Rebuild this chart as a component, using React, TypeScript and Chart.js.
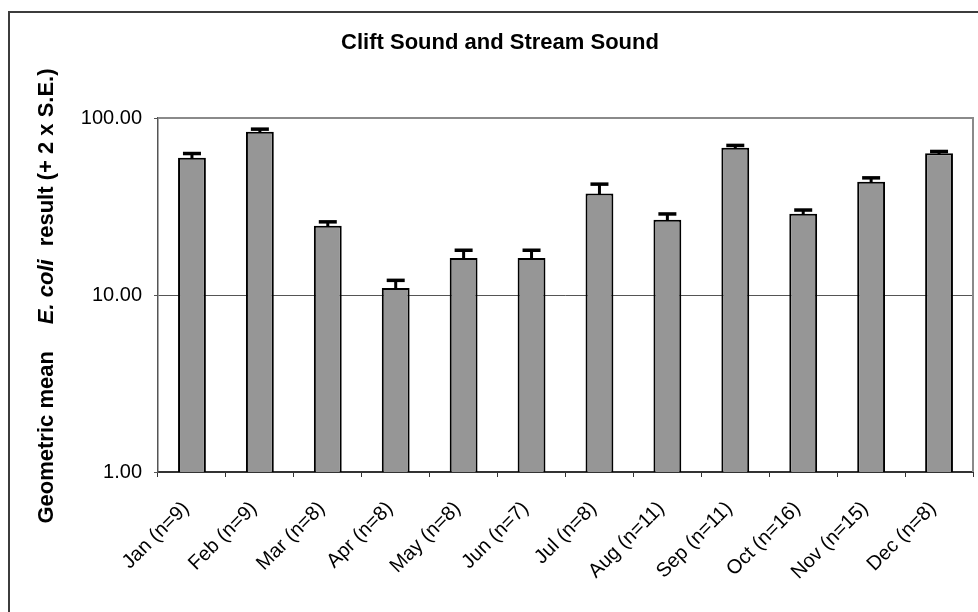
import React, { useEffect, useRef } from 'react';
import { Chart, registerables } from 'chart.js';

Chart.register(...registerables);

const categories = [
  'Jan (n=9)', 'Feb (n=9)', 'Mar (n=8)', 'Apr (n=8)', 'May (n=8)', 'Jun (n=7)',
  'Jul (n=8)', 'Aug (n=11)', 'Sep (n=11)', 'Oct (n=16)', 'Nov (n=15)', 'Dec (n=8)',
];
const geoMeans = [59.7, 83.7, 24.6, 10.95, 16.2, 16.2, 37.4, 26.6, 68.0, 28.8, 43.7, 63.2];
const upperBounds = [63.0, 86.5, 25.9, 12.1, 17.9, 17.9, 42.3, 28.7, 70.0, 30.2, 45.9, 64.7];
const yTickValues = [1, 10, 100];
const chartTitle = 'Clift Sound and Stream Sound';
const yTitleParts = ['Geometric mean', 'E. coli', 'result (+ 2 x S.E.)'];

const FONT = '"Liberation Sans", Arial, sans-serif';

const decorPlugin = {
  id: 'decor',
  beforeDraw(chart: any) {
    const ctx = chart.ctx;
    ctx.save();
    ctx.fillStyle = '#ffffff';
    ctx.fillRect(0, 0, chart.width, chart.height);
    ctx.strokeStyle = '#3c3c3c';
    ctx.lineWidth = 2;
    ctx.beginPath();
    ctx.moveTo(9, chart.height + 5);
    ctx.lineTo(9, 12);
    ctx.lineTo(chart.width + 5, 12);
    ctx.stroke();
    ctx.restore();
  },
  beforeDatasetsDraw(chart: any) {
    const { ctx, chartArea } = chart;
    ctx.save();
    ctx.strokeStyle = '#8a8a8a';
    ctx.lineWidth = 2;
    ctx.beginPath();
    ctx.moveTo(chartArea.left, chartArea.top);
    ctx.lineTo(chartArea.right, chartArea.top);
    ctx.lineTo(chartArea.right, chartArea.bottom);
    ctx.stroke();
    ctx.restore();
  },
  afterDatasetsDraw(chart: any) {
    const { ctx } = chart;
    const meta = chart.getDatasetMeta(0);
    const yScale = chart.scales.y;
    ctx.save();
    ctx.strokeStyle = '#000000';
    meta.data.forEach((bar: any, i: number) => {
      const yTop = yScale.getPixelForValue(upperBounds[i]);
      ctx.lineWidth = 3;
      ctx.beginPath();
      ctx.moveTo(bar.x, bar.y + 1);
      ctx.lineTo(bar.x, yTop);
      ctx.stroke();
      ctx.lineWidth = 3.5;
      ctx.beginPath();
      ctx.moveTo(bar.x - 9, yTop);
      ctx.lineTo(bar.x + 9, yTop);
      ctx.stroke();
    });
    ctx.restore();
  },
  afterDraw(chart: any) {
    const { ctx } = chart;
    ctx.save();
    ctx.fillStyle = '#000000';
    ctx.font = `bold 22px ${FONT}`;
    ctx.textAlign = 'center';
    ctx.textBaseline = 'middle';
    ctx.fillText(chartTitle, 500, 43);

    // rotated y-axis title with mixed styles
    const fonts = [`bold 22px ${FONT}`, `italic bold 22px ${FONT}`, `bold 22px ${FONT}`];
    const gaps = [27, 13];
    const widths = yTitleParts.map((t, i) => {
      ctx.font = fonts[i];
      return ctx.measureText(t).width;
    });
    const total = widths[0] + gaps[0] + widths[1] + gaps[1] + widths[2];
    const cy = 296;
    ctx.translate(47, cy + total / 2);
    ctx.rotate(-Math.PI / 2);
    ctx.textAlign = 'left';
    let x = 0;
    yTitleParts.forEach((t, i) => {
      ctx.font = fonts[i];
      ctx.fillText(t, x, 0);
      x += widths[i] + (gaps[i] || 0);
    });
    ctx.restore();
  },
};

export default function App() {
  const canvasRef = useRef<HTMLCanvasElement | null>(null);

  useEffect(() => {
    if (!canvasRef.current) return;
    const chart = new Chart(canvasRef.current, {
      type: 'bar',
      data: {
        labels: categories,
        datasets: [
          {
            data: geoMeans,
            backgroundColor: '#969696',
            borderColor: '#000000',
            borderWidth: 2,
            borderSkipped: 'start',
            barPercentage: 0.41,
            categoryPercentage: 1,
          },
        ],
      },
      options: {
        animation: false,
        responsive: false,
        devicePixelRatio: 1,
        layout: { padding: { top: 118, right: 5, bottom: 0, left: 0 } },
        plugins: {
          legend: { display: false },
          tooltip: { enabled: false },
          title: { display: false },
        },
        scales: {
          x: {
            grid: {
              display: true,
              drawOnChartArea: false,
              drawTicks: true,
              tickLength: 5,
              tickColor: '#333333',
              offset: true,
            },
            border: { display: true, color: '#333333', width: 2 },
            ticks: {
              autoSkip: false,
              minRotation: 45,
              maxRotation: 45,
              labelOffset: -6,
              padding: 20,
              color: '#000000',
              font: { family: FONT, size: 20 },
            },
            afterFit: (scale: any) => {
              scale.height = 140;
            },
          },
          y: {
            type: 'logarithmic',
            min: 1,
            max: 100,
            afterBuildTicks: (scale: any) => {
              scale.ticks = yTickValues.map((v) => ({ value: v }));
            },
            grid: {
              drawOnChartArea: true,
              drawTicks: true,
              tickLength: 4,
              tickColor: '#555555',
              color: (c: any) => (c.tick && c.tick.value === 10 ? '#555555' : 'rgba(0,0,0,0)'),
              lineWidth: 1,
            },
            border: { display: true, color: '#555555', width: 1.5 },
            ticks: {
              padding: 12,
              color: '#000000',
              font: { family: FONT, size: 20 },
              callback: (v: any) => Number(v).toFixed(2),
            },
            afterFit: (scale: any) => {
              scale.width = 158;
            },
          },
        },
      },
      plugins: [decorPlugin],
    });
    return () => chart.destroy();
  }, []);

  return (
    <div style={{ position: 'absolute', left: 0, top: 0, width: 978, height: 612 }}>
      <canvas ref={canvasRef} width={978} height={612} style={{ display: 'block' }} />
    </div>
  );
}
